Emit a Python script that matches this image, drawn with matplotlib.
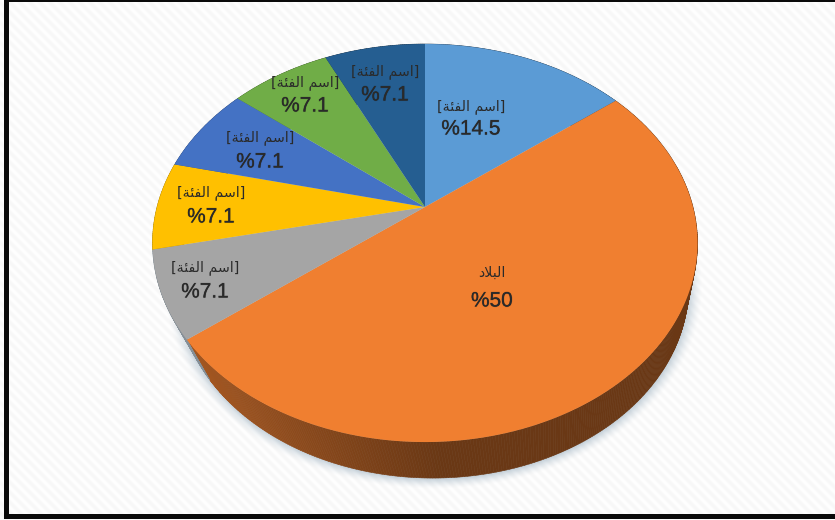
import numpy as np
import matplotlib
matplotlib.use("Agg")
import matplotlib.pyplot as plt
import matplotlib.patheffects as pe
from matplotlib.collections import PolyCollection
from matplotlib.path import Path
from matplotlib.patches import Rectangle
from matplotlib.transforms import Affine2D, Transform
from matplotlib.colors import to_rgb

# Pie values, clockwise from twelve o'clock
values = [14.5, 50, 7.1, 7.1, 7.1, 7.1, 7.1]
colors = ["#5B9BD5", "#F07F30", "#A5A5A5", "#FFC000", "#4472C4", "#70AD47", "#255E91"]
wall_colors = ["#5B9BD5", "#F07F30", "#C4D2DE", "#FFC000", "#4472C4", "#70AD47", "#255E91"]

# Arabic in presentation forms and visual order, since text is laid out left to right
CATEGORY = "[\uFE94\uFE8C\uFED4\uFEDF\uFE8D \uFEE2\uFEB3\uFE8D]"
COUNTRY = "\uFEA9\uFEFC\uFE92\uFEDF\uFE8D"
names = [CATEGORY, COUNTRY, CATEGORY, CATEGORY, CATEGORY, CATEGORY, CATEGORY]
value_labels = ["%14.5", "%50", "%7.1", "%7.1", "%7.1", "%7.1", "%7.1"]

# Label centres in canvas pixels
label_x = [471, 492, 205, 211, 260, 305, 385]
name_y = [107, 273, 268, 193, 138, 83, 72]
value_y = [129, 301, 292, 217, 162, 106, 95]

# Tilted-disc camera: unit circle to canvas pixels
CX, CY, SX, SY, K = 425.0, 207.0, 268.0, 192.5, 0.181
# Lower rim of the disc: pushed down, slightly smaller, nudged right
LOW_SHIFT, LOW_DROP, LOW_SX, LOW_SY = 8.0, 45.4, 0.9375, 0.96


def project(u, v):
    w = 1 + K * np.asarray(v)
    return CX + SX * np.asarray(u) / w, CY - SY * np.asarray(v) / w


def project_low(u, v):
    w = 1 + K * np.asarray(v)
    return (CX + LOW_SHIFT + LOW_SX * SX * np.asarray(u) / w,
            CY + LOW_DROP - LOW_SY * SY * np.asarray(v) / w)


class DiscTransform(Transform):
    input_dims = output_dims = 2
    has_inverse = False

    def transform_non_affine(self, xy):
        xy = np.asarray(xy, float)
        x, y = project(xy[:, 0], xy[:, 1])
        return np.column_stack([x, y])

    def transform_path_non_affine(self, path):
        # Flatten the arc curves at a fine scale before the perspective step
        polys = path.transformed(Affine2D().scale(1000)).to_polygons()
        return Path(self.transform_non_affine(polys[0] / 1000), closed=True)


fig = plt.figure(figsize=(8.35, 5.2), dpi=100, facecolor="white")
ax = fig.add_axes([0, 0, 1, 1])

wedges, _ = ax.pie(values, colors=colors, startangle=90, counterclock=False, radius=1)
disc = DiscTransform() + ax.transData
for w in wedges:
    w.set_transform(disc)
    w.set_zorder(5)

ax.set_aspect("auto")
ax.axis("off")

# Faint diagonal weave on the card
yy, xx = np.mgrid[0:520, 0:835]
weave = 0.98 + 0.015 * np.sin(2 * np.pi * (xx - yy) / 10.0)
ax.imshow(weave, cmap="gray", vmin=0, vmax=1, extent=(0, 835, 520, 0), zorder=0, aspect="auto")

# Soft shadow under the rim
ex = (xx - (CX + LOW_SHIFT)) / 255.0
ey = (yy - 287.0) / 191.0
dist = (np.sqrt(ex ** 2 + ey ** 2) - 1) * 200
alpha = np.clip(1 - dist / 11, 0, 1) ** 1.5 * 0.6
shadow = np.zeros(xx.shape + (4,))
shadow[..., :3] = to_rgb("#9FB3C2")
shadow[..., 3] = alpha
ax.imshow(shadow, extent=(0, 835, 520, 0), zorder=1, aspect="auto")
ax.set_xlim(0, 835)
ax.set_ylim(520, 0)

# Side wall: narrow strips per slice, darkening toward the lower right
strips, strip_colors = [], []
for w, c in zip(wedges, wall_colors):
    angles = np.radians(np.linspace(w.theta1, w.theta2, max(int((w.theta2 - w.theta1) * 2), 2)))
    for a0, a1 in zip(angles[:-1], angles[1:]):
        us, vs = np.cos([a0, a1]), np.sin([a0, a1])
        tx, ty = project(us, vs)
        bx, by = project_low(us, vs)
        strips.append(np.column_stack([np.r_[tx, bx[::-1]], np.r_[ty, by[::-1]]]))
        shade = np.interp(tx.mean(), [190, 440, 700], [0.68, 0.44, 0.44])
        strip_colors.append(tuple(np.array(to_rgb(c)) * shade))
ax.add_collection(PolyCollection(strips, facecolors=strip_colors, edgecolors=strip_colors,
                                 linewidths=0.4, zorder=3))

# Slice captions
halo = [pe.withStroke(linewidth=0.8, foreground=(0, 0, 0, 0.15))]
for x, ny, vy, n, v in zip(label_x, name_y, value_y, names, value_labels):
    ax.text(x, ny, n, ha="center", va="center", fontsize=10.2, color="#2a2a2a",
            family="DejaVu Sans", zorder=8)
    ax.text(x, vy, v, ha="center", va="center", fontsize=15, color="#2a2a2a",
            family="Liberation Sans", zorder=8, path_effects=halo)

# Black card frame: left, top and bottom edges
for rect in [(4, 0, 4.5, 518.5), (4, 0, 831, 1.5), (4, 513.5, 831, 5)]:
    ax.add_patch(Rectangle(rect[:2], rect[2], rect[3], facecolor="#0a0a0a", edgecolor="none", zorder=9))

fig.savefig("out.png", dpi=100)
